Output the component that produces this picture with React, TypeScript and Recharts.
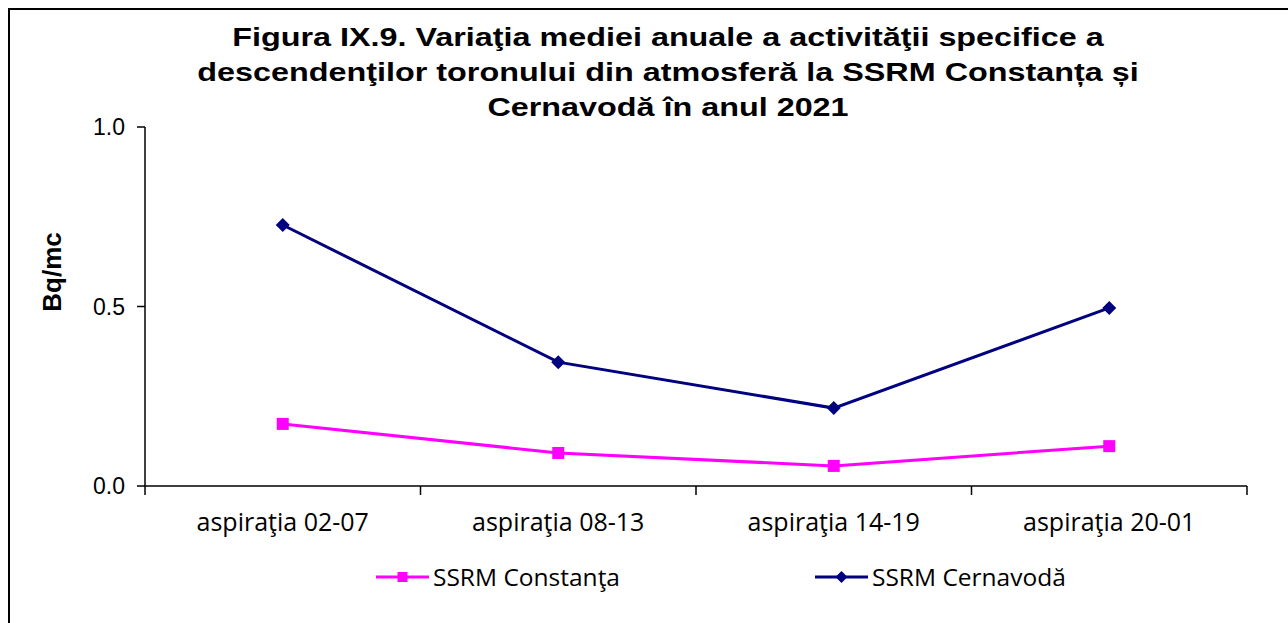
import React from 'react';
import { LineChart, Line, XAxis, YAxis } from 'recharts';

const titleLines = [
  'Figura IX.9. Variaţia mediei anuale a activităţii specifice a',
  'descendenţilor toronului din atmosferă la SSRM Constanța și',
  'Cernavodă în anul 2021',
];
const categories = ['aspiraţia 02-07', 'aspiraţia 08-13', 'aspiraţia 14-19', 'aspiraţia 20-01'];
const constanta = [0.173, 0.092, 0.056, 0.111];
const cernavoda = [0.727, 0.345, 0.217, 0.496];
const yTicks = [0, 0.5, 1];
const seriesNames = ['SSRM Constanţa', 'SSRM Cernavodă'];
const yLabel = 'Bq/mc';

const MAGENTA = '#FF00FF';
const NAVY = '#000080';

// each category occupies one unit band; points sit at band centres
const data = categories.map((c, i) => ({ pos: i + 0.5, name: c, constanta: constanta[i], cernavoda: cernavoda[i] }));
const xTicks: number[] = [];
for (let i = 0; i <= categories.length; i++) {
  xTicks.push(i);
  if (i < categories.length) xTicks.push(i + 0.5);
}

const SquareDot = (p: any) => (
  <rect key={`s${p.index}`} x={p.cx - 6} y={p.cy - 6} width={12} height={12} fill={MAGENTA} />
);
const DiamondDot = (p: any) => (
  <path key={`d${p.index}`} d={`M${p.cx},${p.cy - 7}L${p.cx + 7},${p.cy}L${p.cx},${p.cy + 7}L${p.cx - 7},${p.cy}Z`} fill={NAVY} />
);

const catFont = "'Open Sans', sans-serif";

const XTick = (p: any) => {
  const v = p.payload.value as number;
  if (Number.isInteger(v)) {
    return <line x1={p.x} x2={p.x} y1={p.y} y2={p.y + 9} stroke="#000" strokeWidth={1.5} />;
  }
  return (
    <text x={p.x} y={p.y} dy={45} textAnchor="middle" fontFamily={catFont} fontSize={25} fill="#000">
      {categories[Math.floor(v)]}
    </text>
  );
};

export default function App() {
  return (
    <div style={{ position: 'absolute', left: 0, top: 0, width: 1288, height: 623, overflow: 'hidden', background: '#fff' }}>
      <div style={{ position: 'absolute', left: 8, top: 8, width: 1400, height: 800, borderLeft: '2px solid #000', borderTop: '2px solid #000' }} />
      <div style={{ position: 'absolute', left: 0, top: 20, width: 1336, textAlign: 'center', fontFamily: "'Liberation Sans', Arial, sans-serif", fontWeight: 'bold', fontSize: 26.5, lineHeight: '35px', color: '#000', transform: 'scaleX(1.22)', transformOrigin: '668px 0' }}>
        {titleLines.map((t) => (
          <div key={t}>{t}</div>
        ))}
      </div>
      <div style={{ position: 'absolute', left: 0, top: 0 }}>
        <LineChart width={1288} height={623} data={data} margin={{ top: 127, right: 41, bottom: 77, left: 85 }}>
          <XAxis
            dataKey="pos"
            type="number"
            domain={[0, categories.length]}
            ticks={xTicks}
            interval={0}
            height={60}
            tickSize={0}
            tickMargin={0}
            tickLine={false}
            tick={<XTick />}
            axisLine={{ stroke: '#000', strokeWidth: 1.5 }}
          />
          <YAxis
            domain={[0, 1]}
            ticks={yTicks}
            width={60}
            tickSize={8}
            tickMargin={12}
            tickFormatter={(v: number) => v.toFixed(1)}
            tick={{ fontFamily: "'Liberation Sans', Arial, sans-serif", fontSize: 23, fill: '#000' }}
            axisLine={{ stroke: '#000', strokeWidth: 1.5 }}
            tickLine={{ stroke: '#000', strokeWidth: 1.5 }}
          />
          <Line dataKey="constanta" stroke={MAGENTA} strokeWidth={3} dot={SquareDot} isAnimationActive={false} />
          <Line dataKey="cernavoda" stroke={NAVY} strokeWidth={3} dot={DiamondDot} isAnimationActive={false} />
        </LineChart>
      </div>
      <div style={{ position: 'absolute', left: 52, top: 272, transform: 'translate(-50%, -50%) rotate(-90deg)', fontFamily: "'Liberation Sans', Arial, sans-serif", fontWeight: 'bold', fontSize: 26, color: '#000', whiteSpace: 'nowrap' }}>
        {yLabel}
      </div>
      {[
        { name: seriesNames[0], color: MAGENTA, lineLeft: 376, textLeft: 433, shape: 'square' },
        { name: seriesNames[1], color: NAVY, lineLeft: 815, textLeft: 872, shape: 'diamond' },
      ].map((it) => (
        <React.Fragment key={it.name}>
          <svg style={{ position: 'absolute', left: it.lineLeft, top: 567 }} width={53} height={20}>
            <line x1={0} y1={10} x2={53} y2={10} stroke={it.color} strokeWidth={3} />
            {it.shape === 'square' ? (
              <rect x={21.5} y={5} width={10} height={10} fill={it.color} />
            ) : (
              <path d="M26.5,4L32.5,10L26.5,16L20.5,10Z" fill={it.color} />
            )}
          </svg>
          <div style={{ position: 'absolute', left: it.textLeft, top: 577, transform: 'translateY(-50%)', fontFamily: catFont, fontSize: 24.5, color: '#000', whiteSpace: 'nowrap', lineHeight: 1 }}>
            {it.name}
          </div>
        </React.Fragment>
      ))}
    </div>
  );
}
